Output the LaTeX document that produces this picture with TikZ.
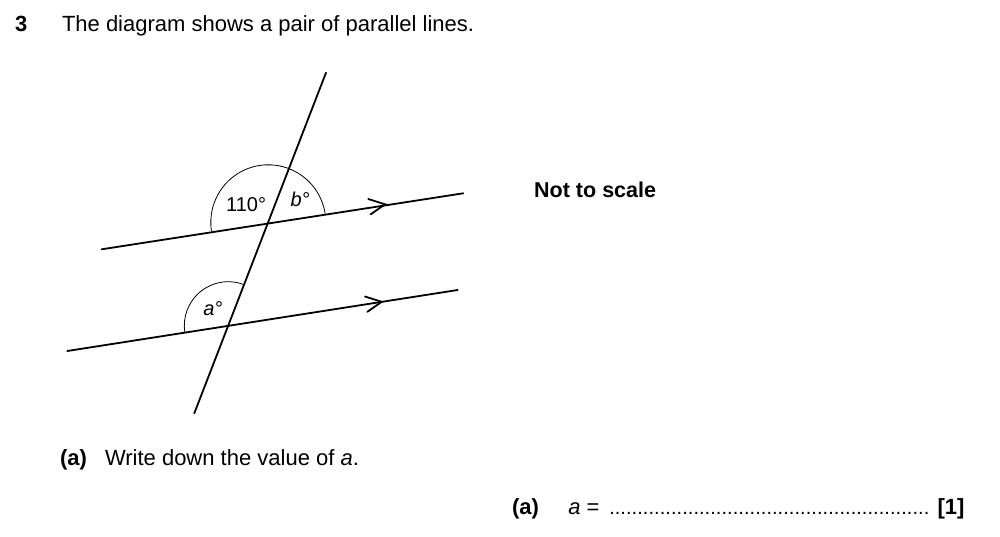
\documentclass[tikz,border=0pt]{standalone}
\usepackage{fontspec}
\setmainfont{Liberation Sans}
\begin{document}
\begin{tikzpicture}[x=1pt,y=-1pt,
  geoline/.style={line width=1.8pt,line cap=round},
  anglearc/.style={line width=0.8pt},
  chevron/.style={line width=1.8pt,line cap=round,line join=miter},
  txt/.style={anchor=base west,inner sep=0pt,outer sep=0pt,font=\fontsize{22}{26}\selectfont},
  lbl/.style={anchor=base west,inner sep=0pt,outer sep=0pt,font=\fontsize{20}{24}\selectfont}]
\useasboundingbox[fill=white] (0,0) rectangle (1000,537);
% header
\node[txt,font=\fontsize{22}{26}\selectfont\bfseries] (num) at (15,31.7) {3};
\node[txt] (title) at (62,31.7) {The diagram shows a pair of parallel lines.};
% geometry
\coordinate (T1) at (326,72.7);
\coordinate (T2) at (194.3,413.3);
\coordinate (P) at (268.3,222.3);
\coordinate (Q) at (228.3,325.7);
\coordinate (A1) at (101.7,249.3);
\coordinate (A2) at (463.3,193.3);
\coordinate (B1) at (67.3,351);
\coordinate (B2) at (457.7,290);
\coordinate (ArrU) at (385,204.3);
\coordinate (ArrL) at (381.7,301.8);
\draw[geoline] (T1) -- (T2);
\draw[geoline] (A1) -- (A2);
\draw[geoline] (B1) -- (B2);
\draw[chevron] (ArrU) ++(197.5:17.5) -- (ArrU) -- ++(145:17.5);
\draw[chevron] (ArrL) ++(197.5:17.5) -- (ArrL) -- ++(145:17.5);
% angle arcs
\draw[anglearc] (P) ++(-8.8:57.5) arc[start angle=-8.8,end angle=-188.8,radius=57.5];
\draw[anglearc] (Q) ++(-68.9:44) arc[start angle=-68.9,end angle=-188.9,radius=44];
% angle labels
\node[lbl] (l110) at (226.2,211.7) {110°};
\node[lbl,font=\fontsize{20}{24}\selectfont\itshape] (lb) at (290.5,206.7) {b°};
\node[lbl,font=\fontsize{20}{24}\selectfont\itshape] (la) at (203.3,315) {a°};
% not to scale
\node[anchor=base west,inner sep=0pt,font=\fontsize{21.5}{25}\selectfont\bfseries] (nts) at (534,197.3) {Not to scale};
% part (a)
\node[txt,font=\fontsize{22}{26}\selectfont\bfseries] (pa) at (60,465) {(a)};
\node[txt] (q) at (105,465) {Write down the value of \textit{a}.};
% answer line
\node[txt,font=\fontsize{22}{26}\selectfont\bfseries] (pa2) at (512,514) {(a)};
\node[txt] (ans) at (568.3,514) {\textit{a} =};
\node[anchor=base west,inner sep=0pt,font=\fontsize{20}{24}\selectfont] (dots) at (609,514) {\hbox to 320pt{\xleaders\hbox{.}\hfill}};
\node[txt,font=\fontsize{22}{26}\selectfont\bfseries] (mark) at (937.5,514) {[1]};
\end{tikzpicture}
\end{document}
